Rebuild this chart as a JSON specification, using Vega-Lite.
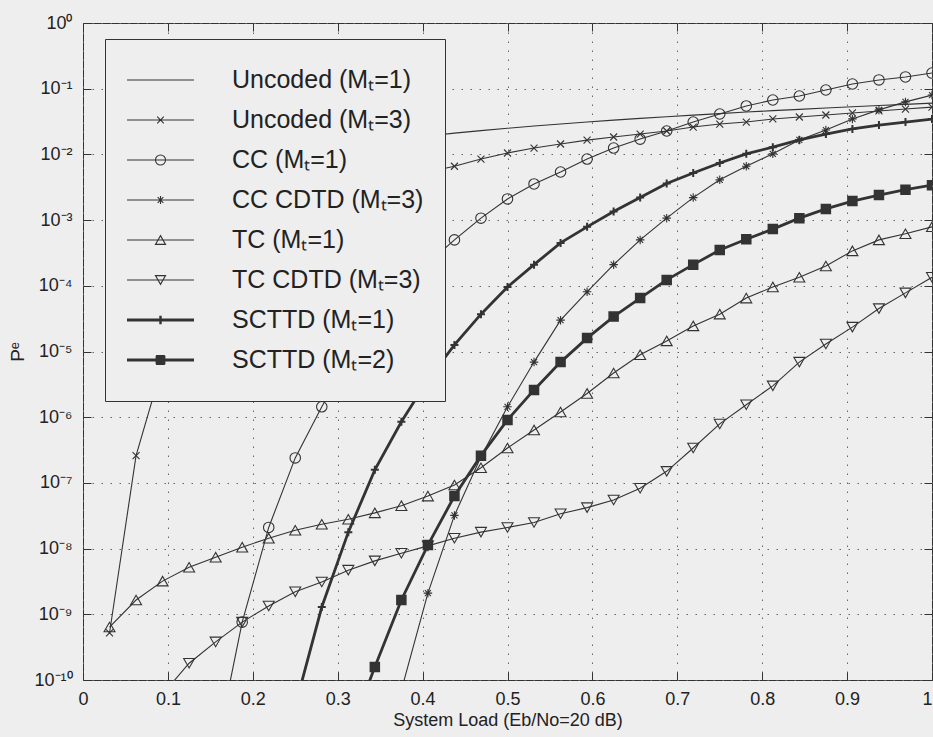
{
  "$schema": "https://vega.github.io/schema/vega-lite/v6.json",
  "width": 849,
  "height": 657,
  "autosize": "none",
  "padding": {"left": 83, "top": 23, "right": 1, "bottom": 57},
  "background": "#eeeeee",
  "config": {
    "view": {"stroke": "#333333", "strokeWidth": 1},
    "font": "Liberation Sans",
    "axis": {"labelFont": "Liberation Sans", "titleFont": "Liberation Sans", "labelColor": "#222222", "titleColor": "#222222", "titleFontWeight": "normal", "tickColor": "#333333", "domain": false}
  },
  "data": {"values": [
    {"series":"Uncoded (Mₜ=1)","load":0.03125,"pe":7.4e-4},{"series":"Uncoded (Mₜ=1)","load":0.0625,"pe":1.78e-3},{"series":"Uncoded (Mₜ=1)","load":0.09375,"pe":2.97e-3},{"series":"Uncoded (Mₜ=1)","load":0.125,"pe":4.3e-3},{"series":"Uncoded (Mₜ=1)","load":0.15625,"pe":5.7e-3},{"series":"Uncoded (Mₜ=1)","load":0.1875,"pe":7.2e-3},{"series":"Uncoded (Mₜ=1)","load":0.21875,"pe":8.7e-3},{"series":"Uncoded (Mₜ=1)","load":0.25,"pe":1.04e-2},{"series":"Uncoded (Mₜ=1)","load":0.28125,"pe":1.2e-2},{"series":"Uncoded (Mₜ=1)","load":0.3125,"pe":1.38e-2},{"series":"Uncoded (Mₜ=1)","load":0.34375,"pe":1.55e-2},{"series":"Uncoded (Mₜ=1)","load":0.375,"pe":1.74e-2},{"series":"Uncoded (Mₜ=1)","load":0.40625,"pe":1.91e-2},{"series":"Uncoded (Mₜ=1)","load":0.4375,"pe":2.11e-2},{"series":"Uncoded (Mₜ=1)","load":0.46875,"pe":2.3e-2},{"series":"Uncoded (Mₜ=1)","load":0.5,"pe":2.5e-2},{"series":"Uncoded (Mₜ=1)","load":0.53125,"pe":2.7e-2},{"series":"Uncoded (Mₜ=1)","load":0.5625,"pe":2.9e-2},{"series":"Uncoded (Mₜ=1)","load":0.59375,"pe":3.11e-2},{"series":"Uncoded (Mₜ=1)","load":0.625,"pe":3.32e-2},{"series":"Uncoded (Mₜ=1)","load":0.65625,"pe":3.53e-2},{"series":"Uncoded (Mₜ=1)","load":0.6875,"pe":3.74e-2},{"series":"Uncoded (Mₜ=1)","load":0.71875,"pe":3.96e-2},{"series":"Uncoded (Mₜ=1)","load":0.75,"pe":4.18e-2},{"series":"Uncoded (Mₜ=1)","load":0.78125,"pe":4.41e-2},{"series":"Uncoded (Mₜ=1)","load":0.8125,"pe":4.63e-2},{"series":"Uncoded (Mₜ=1)","load":0.84375,"pe":4.85e-2},{"series":"Uncoded (Mₜ=1)","load":0.875,"pe":5.08e-2},{"series":"Uncoded (Mₜ=1)","load":0.90625,"pe":5.31e-2},{"series":"Uncoded (Mₜ=1)","load":0.9375,"pe":5.55e-2},{"series":"Uncoded (Mₜ=1)","load":0.96875,"pe":5.78e-2},{"series":"Uncoded (Mₜ=1)","load":1,"pe":6.03e-2},

    {"series":"Uncoded (Mₜ=3)","load":0.03125,"pe":5.2e-10},{"series":"Uncoded (Mₜ=3)","load":0.0625,"pe":2.6e-7},{"series":"Uncoded (Mₜ=3)","load":0.09375,"pe":6.3e-6},{"series":"Uncoded (Mₜ=3)","load":0.125,"pe":5.0e-5},{"series":"Uncoded (Mₜ=3)","load":0.15625,"pe":1.8e-4},{"series":"Uncoded (Mₜ=3)","load":0.1875,"pe":4.5e-4},{"series":"Uncoded (Mₜ=3)","load":0.21875,"pe":8.9e-4},{"series":"Uncoded (Mₜ=3)","load":0.25,"pe":1.41e-3},{"series":"Uncoded (Mₜ=3)","load":0.28125,"pe":2.1e-3},{"series":"Uncoded (Mₜ=3)","load":0.3125,"pe":2.8e-3},{"series":"Uncoded (Mₜ=3)","load":0.34375,"pe":3.6e-3},{"series":"Uncoded (Mₜ=3)","load":0.375,"pe":4.5e-3},{"series":"Uncoded (Mₜ=3)","load":0.40625,"pe":5.4e-3},{"series":"Uncoded (Mₜ=3)","load":0.4375,"pe":6.6e-3},{"series":"Uncoded (Mₜ=3)","load":0.46875,"pe":8.5e-3},{"series":"Uncoded (Mₜ=3)","load":0.5,"pe":1.05e-2},{"series":"Uncoded (Mₜ=3)","load":0.53125,"pe":1.25e-2},{"series":"Uncoded (Mₜ=3)","load":0.5625,"pe":1.44e-2},{"series":"Uncoded (Mₜ=3)","load":0.59375,"pe":1.65e-2},{"series":"Uncoded (Mₜ=3)","load":0.625,"pe":1.84e-2},{"series":"Uncoded (Mₜ=3)","load":0.65625,"pe":2.04e-2},{"series":"Uncoded (Mₜ=3)","load":0.6875,"pe":2.27e-2},{"series":"Uncoded (Mₜ=3)","load":0.71875,"pe":2.61e-2},{"series":"Uncoded (Mₜ=3)","load":0.75,"pe":2.9e-2},{"series":"Uncoded (Mₜ=3)","load":0.78125,"pe":3.11e-2},{"series":"Uncoded (Mₜ=3)","load":0.8125,"pe":3.46e-2},{"series":"Uncoded (Mₜ=3)","load":0.84375,"pe":3.71e-2},{"series":"Uncoded (Mₜ=3)","load":0.875,"pe":3.98e-2},{"series":"Uncoded (Mₜ=3)","load":0.90625,"pe":4.27e-2},{"series":"Uncoded (Mₜ=3)","load":0.9375,"pe":4.58e-2},{"series":"Uncoded (Mₜ=3)","load":0.96875,"pe":4.9e-2},{"series":"Uncoded (Mₜ=3)","load":1,"pe":5.25e-2},

    {"series":"CC (Mₜ=1)","load":0.15625,"pe":7.8e-12},{"series":"CC (Mₜ=1)","load":0.1875,"pe":7.6e-10},{"series":"CC (Mₜ=1)","load":0.21875,"pe":2.1e-8},{"series":"CC (Mₜ=1)","load":0.25,"pe":2.4e-7},{"series":"CC (Mₜ=1)","load":0.28125,"pe":1.44e-6},{"series":"CC (Mₜ=1)","load":0.3125,"pe":7.4e-6},{"series":"CC (Mₜ=1)","load":0.34375,"pe":3.0e-5},{"series":"CC (Mₜ=1)","load":0.375,"pe":8.7e-5},{"series":"CC (Mₜ=1)","load":0.40625,"pe":2.2e-4},{"series":"CC (Mₜ=1)","load":0.4375,"pe":5.0e-4},{"series":"CC (Mₜ=1)","load":0.46875,"pe":1.07e-3},{"series":"CC (Mₜ=1)","load":0.5,"pe":2.1e-3},{"series":"CC (Mₜ=1)","load":0.53125,"pe":3.55e-3},{"series":"CC (Mₜ=1)","load":0.5625,"pe":5.4e-3},{"series":"CC (Mₜ=1)","load":0.59375,"pe":8.5e-3},{"series":"CC (Mₜ=1)","load":0.625,"pe":1.25e-2},{"series":"CC (Mₜ=1)","load":0.65625,"pe":1.71e-2},{"series":"CC (Mₜ=1)","load":0.6875,"pe":2.27e-2},{"series":"CC (Mₜ=1)","load":0.71875,"pe":3.11e-2},{"series":"CC (Mₜ=1)","load":0.75,"pe":4.12e-2},{"series":"CC (Mₜ=1)","load":0.78125,"pe":5.46e-2},{"series":"CC (Mₜ=1)","load":0.8125,"pe":6.73e-2},{"series":"CC (Mₜ=1)","load":0.84375,"pe":7.74e-2},{"series":"CC (Mₜ=1)","load":0.875,"pe":9.55e-2},{"series":"CC (Mₜ=1)","load":0.90625,"pe":0.118},{"series":"CC (Mₜ=1)","load":0.9375,"pe":0.136},{"series":"CC (Mₜ=1)","load":0.96875,"pe":0.151},{"series":"CC (Mₜ=1)","load":1,"pe":0.173},

    {"series":"CC CDTD (Mₜ=3)","load":0.375,"pe":7e-11},{"series":"CC CDTD (Mₜ=3)","load":0.40625,"pe":2.1e-9},{"series":"CC CDTD (Mₜ=3)","load":0.4375,"pe":3.2e-8},{"series":"CC CDTD (Mₜ=3)","load":0.46875,"pe":2.5e-7},{"series":"CC CDTD (Mₜ=3)","load":0.5,"pe":1.44e-6},{"series":"CC CDTD (Mₜ=3)","load":0.53125,"pe":6.9e-6},{"series":"CC CDTD (Mₜ=3)","load":0.5625,"pe":3.0e-5},{"series":"CC CDTD (Mₜ=3)","load":0.59375,"pe":8.1e-5},{"series":"CC CDTD (Mₜ=3)","load":0.625,"pe":2.1e-4},{"series":"CC CDTD (Mₜ=3)","load":0.65625,"pe":5.0e-4},{"series":"CC CDTD (Mₜ=3)","load":0.6875,"pe":1.07e-3},{"series":"CC CDTD (Mₜ=3)","load":0.71875,"pe":2.2e-3},{"series":"CC CDTD (Mₜ=3)","load":0.75,"pe":4.1e-3},{"series":"CC CDTD (Mₜ=3)","load":0.78125,"pe":6.6e-3},{"series":"CC CDTD (Mₜ=3)","load":0.8125,"pe":1.02e-2},{"series":"CC CDTD (Mₜ=3)","load":0.84375,"pe":1.66e-2},{"series":"CC CDTD (Mₜ=3)","load":0.875,"pe":2.35e-2},{"series":"CC CDTD (Mₜ=3)","load":0.90625,"pe":3.47e-2},{"series":"CC CDTD (Mₜ=3)","load":0.9375,"pe":4.76e-2},{"series":"CC CDTD (Mₜ=3)","load":0.96875,"pe":6.3e-2},{"series":"CC CDTD (Mₜ=3)","load":1,"pe":8.0e-2},

    {"series":"TC (Mₜ=1)","load":0.03125,"pe":6.4e-10},{"series":"TC (Mₜ=1)","load":0.0625,"pe":1.65e-9},{"series":"TC (Mₜ=1)","load":0.09375,"pe":3.2e-9},{"series":"TC (Mₜ=1)","load":0.125,"pe":5.2e-9},{"series":"TC (Mₜ=1)","load":0.15625,"pe":7.4e-9},{"series":"TC (Mₜ=1)","load":0.1875,"pe":1.05e-8},{"series":"TC (Mₜ=1)","load":0.21875,"pe":1.44e-8},{"series":"TC (Mₜ=1)","load":0.25,"pe":1.9e-8},{"series":"TC (Mₜ=1)","load":0.28125,"pe":2.35e-8},{"series":"TC (Mₜ=1)","load":0.3125,"pe":2.8e-8},{"series":"TC (Mₜ=1)","load":0.34375,"pe":3.5e-8},{"series":"TC (Mₜ=1)","load":0.375,"pe":4.5e-8},{"series":"TC (Mₜ=1)","load":0.40625,"pe":6.3e-8},{"series":"TC (Mₜ=1)","load":0.4375,"pe":9.3e-8},{"series":"TC (Mₜ=1)","load":0.46875,"pe":1.7e-7},{"series":"TC (Mₜ=1)","load":0.5,"pe":3.4e-7},{"series":"TC (Mₜ=1)","load":0.53125,"pe":6.4e-7},{"series":"TC (Mₜ=1)","load":0.5625,"pe":1.2e-6},{"series":"TC (Mₜ=1)","load":0.59375,"pe":2.3e-6},{"series":"TC (Mₜ=1)","load":0.625,"pe":4.7e-6},{"series":"TC (Mₜ=1)","load":0.65625,"pe":8.9e-6},{"series":"TC (Mₜ=1)","load":0.6875,"pe":1.45e-5},{"series":"TC (Mₜ=1)","load":0.71875,"pe":2.45e-5},{"series":"TC (Mₜ=1)","load":0.75,"pe":3.7e-5},{"series":"TC (Mₜ=1)","load":0.78125,"pe":6.5e-5},{"series":"TC (Mₜ=1)","load":0.8125,"pe":9.6e-5},{"series":"TC (Mₜ=1)","load":0.84375,"pe":1.35e-4},{"series":"TC (Mₜ=1)","load":0.875,"pe":2.0e-4},{"series":"TC (Mₜ=1)","load":0.90625,"pe":3.4e-4},{"series":"TC (Mₜ=1)","load":0.9375,"pe":5.0e-4},{"series":"TC (Mₜ=1)","load":0.96875,"pe":6.2e-4},{"series":"TC (Mₜ=1)","load":1,"pe":7.9e-4},

    {"series":"TC CDTD (Mₜ=3)","load":0.09375,"pe":6.1e-11},{"series":"TC CDTD (Mₜ=3)","load":0.125,"pe":1.8e-10},{"series":"TC CDTD (Mₜ=3)","load":0.15625,"pe":3.8e-10},{"series":"TC CDTD (Mₜ=3)","load":0.1875,"pe":7.6e-10},{"series":"TC CDTD (Mₜ=3)","load":0.21875,"pe":1.34e-9},{"series":"TC CDTD (Mₜ=3)","load":0.25,"pe":2.2e-9},{"series":"TC CDTD (Mₜ=3)","load":0.28125,"pe":3.1e-9},{"series":"TC CDTD (Mₜ=3)","load":0.3125,"pe":4.7e-9},{"series":"TC CDTD (Mₜ=3)","load":0.34375,"pe":6.5e-9},{"series":"TC CDTD (Mₜ=3)","load":0.375,"pe":8.5e-9},{"series":"TC CDTD (Mₜ=3)","load":0.40625,"pe":1.1e-8},{"series":"TC CDTD (Mₜ=3)","load":0.4375,"pe":1.44e-8},{"series":"TC CDTD (Mₜ=3)","load":0.46875,"pe":1.78e-8},{"series":"TC CDTD (Mₜ=3)","load":0.5,"pe":2.1e-8},{"series":"TC CDTD (Mₜ=3)","load":0.53125,"pe":2.5e-8},{"series":"TC CDTD (Mₜ=3)","load":0.5625,"pe":3.4e-8},{"series":"TC CDTD (Mₜ=3)","load":0.59375,"pe":4.2e-8},{"series":"TC CDTD (Mₜ=3)","load":0.625,"pe":5.5e-8},{"series":"TC CDTD (Mₜ=3)","load":0.65625,"pe":8.3e-8},{"series":"TC CDTD (Mₜ=3)","load":0.6875,"pe":1.5e-7},{"series":"TC CDTD (Mₜ=3)","load":0.71875,"pe":3.4e-7},{"series":"TC CDTD (Mₜ=3)","load":0.75,"pe":7.9e-7},{"series":"TC CDTD (Mₜ=3)","load":0.78125,"pe":1.55e-6},{"series":"TC CDTD (Mₜ=3)","load":0.8125,"pe":3.0e-6},{"series":"TC CDTD (Mₜ=3)","load":0.84375,"pe":6.9e-6},{"series":"TC CDTD (Mₜ=3)","load":0.875,"pe":1.3e-5},{"series":"TC CDTD (Mₜ=3)","load":0.90625,"pe":2.35e-5},{"series":"TC CDTD (Mₜ=3)","load":0.9375,"pe":4.5e-5},{"series":"TC CDTD (Mₜ=3)","load":0.96875,"pe":7.8e-5},{"series":"TC CDTD (Mₜ=3)","load":1,"pe":1.35e-4},

    {"series":"SCTTD (Mₜ=1)","load":0.25,"pe":4e-11},{"series":"SCTTD (Mₜ=1)","load":0.28125,"pe":1.29e-9},{"series":"SCTTD (Mₜ=1)","load":0.3125,"pe":1.78e-8},{"series":"SCTTD (Mₜ=1)","load":0.34375,"pe":1.58e-7},{"series":"SCTTD (Mₜ=1)","load":0.375,"pe":8.5e-7},{"series":"SCTTD (Mₜ=1)","load":0.40625,"pe":3.7e-6},{"series":"SCTTD (Mₜ=1)","load":0.4375,"pe":1.26e-5},{"series":"SCTTD (Mₜ=1)","load":0.46875,"pe":3.7e-5},{"series":"SCTTD (Mₜ=1)","load":0.5,"pe":9.6e-5},{"series":"SCTTD (Mₜ=1)","load":0.53125,"pe":2.1e-4},{"series":"SCTTD (Mₜ=1)","load":0.5625,"pe":4.5e-4},{"series":"SCTTD (Mₜ=1)","load":0.59375,"pe":7.9e-4},{"series":"SCTTD (Mₜ=1)","load":0.625,"pe":1.35e-3},{"series":"SCTTD (Mₜ=1)","load":0.65625,"pe":2.2e-3},{"series":"SCTTD (Mₜ=1)","load":0.6875,"pe":3.6e-3},{"series":"SCTTD (Mₜ=1)","load":0.71875,"pe":5.2e-3},{"series":"SCTTD (Mₜ=1)","load":0.75,"pe":7.4e-3},{"series":"SCTTD (Mₜ=1)","load":0.78125,"pe":1.02e-2},{"series":"SCTTD (Mₜ=1)","load":0.8125,"pe":1.29e-2},{"series":"SCTTD (Mₜ=1)","load":0.84375,"pe":1.66e-2},{"series":"SCTTD (Mₜ=1)","load":0.875,"pe":2.04e-2},{"series":"SCTTD (Mₜ=1)","load":0.90625,"pe":2.44e-2},{"series":"SCTTD (Mₜ=1)","load":0.9375,"pe":2.8e-2},{"series":"SCTTD (Mₜ=1)","load":0.96875,"pe":3.1e-2},{"series":"SCTTD (Mₜ=1)","load":1,"pe":3.45e-2},

    {"series":"SCTTD (Mₜ=2)","load":0.3125,"pe":1.35e-11},{"series":"SCTTD (Mₜ=2)","load":0.34375,"pe":1.58e-10},{"series":"SCTTD (Mₜ=2)","load":0.375,"pe":1.65e-9},{"series":"SCTTD (Mₜ=2)","load":0.40625,"pe":1.13e-8},{"series":"SCTTD (Mₜ=2)","load":0.4375,"pe":6.3e-8},{"series":"SCTTD (Mₜ=2)","load":0.46875,"pe":2.6e-7},{"series":"SCTTD (Mₜ=2)","load":0.5,"pe":9.1e-7},{"series":"SCTTD (Mₜ=2)","load":0.53125,"pe":2.6e-6},{"series":"SCTTD (Mₜ=2)","load":0.5625,"pe":6.9e-6},{"series":"SCTTD (Mₜ=2)","load":0.59375,"pe":1.6e-5},{"series":"SCTTD (Mₜ=2)","load":0.625,"pe":3.4e-5},{"series":"SCTTD (Mₜ=2)","load":0.65625,"pe":6.5e-5},{"series":"SCTTD (Mₜ=2)","load":0.6875,"pe":1.23e-4},{"series":"SCTTD (Mₜ=2)","load":0.71875,"pe":2.1e-4},{"series":"SCTTD (Mₜ=2)","load":0.75,"pe":3.5e-4},{"series":"SCTTD (Mₜ=2)","load":0.78125,"pe":5.1e-4},{"series":"SCTTD (Mₜ=2)","load":0.8125,"pe":7.3e-4},{"series":"SCTTD (Mₜ=2)","load":0.84375,"pe":1.07e-3},{"series":"SCTTD (Mₜ=2)","load":0.875,"pe":1.48e-3},{"series":"SCTTD (Mₜ=2)","load":0.90625,"pe":1.95e-3},{"series":"SCTTD (Mₜ=2)","load":0.9375,"pe":2.4e-3},{"series":"SCTTD (Mₜ=2)","load":0.96875,"pe":2.9e-3},{"series":"SCTTD (Mₜ=2)","load":1,"pe":3.4e-3}
  ]},
  "resolve": {"scale": {"x": "independent", "y": "independent", "shape": "independent"}, "axis": {"x": "independent", "y": "independent"}, "legend": {"shape": "independent"}},
  "layer": [
    {
      "mark": {"type": "line", "clip": true, "color": "#333333"},
      "encoding": {
        "x": {"field": "load", "type": "quantitative", "scale": {"domain": [0, 1], "nice": false, "zero": false},
          "axis": {"values": [0,0.1,0.2,0.3,0.4,0.5,0.6,0.7,0.8,0.9,1], "format": "~g", "title": "System Load (Eb/No=20 dB)", "labelFontSize": 18, "titleFontSize": 18, "ticks": false, "labelPadding": 10, "titlePadding": 3, "grid": true, "gridDash": [1.5, 7.5], "gridColor": "#666666", "gridOpacity": 1, "labelFlush": false,
            "labelAlign": {"condition": {"test": "datum.value === 1", "value": "right"}, "value": "center"}}},
        "y": {"field": "pe", "type": "quantitative", "scale": {"type": "log", "domain": [1e-10, 1], "nice": false},
          "axis": {"values": [1e-10,1e-9,1e-8,1e-7,1e-6,1e-5,1e-4,1e-3,1e-2,1e-1,1], "labelExpr": "['10⁰','10⁻¹','10⁻²','10⁻³','10⁻⁴','10⁻⁵','10⁻⁶','10⁻⁷','10⁻⁸','10⁻⁹','10⁻¹⁰'][round(-log(datum.value)/LN10)]", "title": "Pᵉ", "labelFontSize": 18, "titleFontSize": 19, "ticks": false, "labelPadding": 11, "titlePadding": 6, "grid": true, "gridDash": [1.5, 7.5], "gridColor": "#666666", "gridOpacity": 1, "labelFlush": false}},
        "detail": {"field": "series"},
        "strokeWidth": {"condition": {"test": "indexof(datum.series, 'SCTTD') === 0", "value": 2.8}, "value": 1.1}
      }
    },
    {
      "transform": [{"filter": "datum.series !== 'Uncoded (Mₜ=1)'"}],
      "mark": {"type": "point", "clip": true, "filled": false, "color": "#333333", "opacity": 1},
      "encoding": {
        "x": {"field": "load", "type": "quantitative", "scale": {"domain": [0, 1], "nice": false, "zero": false}, "axis": null},
        "y": {"field": "pe", "type": "quantitative", "scale": {"type": "log", "domain": [1e-10, 1], "nice": false}, "axis": null},
        "shape": {"field": "series", "type": "nominal", "legend": null,
          "scale": {"domain": ["Uncoded (Mₜ=1)","Uncoded (Mₜ=3)","CC (Mₜ=1)","CC CDTD (Mₜ=3)","TC (Mₜ=1)","TC CDTD (Mₜ=3)","SCTTD (Mₜ=1)","SCTTD (Mₜ=2)"],
            "range": ["M0,0", "M-0.7,-0.7L0.7,0.7M-0.7,0.7L0.7,-0.7", "circle", "M-0.85,0L0.85,0M0,-0.85L0,0.85M-0.6,-0.6L0.6,0.6M-0.6,0.6L0.6,-0.6", "triangle-up", "triangle-down", "M-0.8,0L0.8,0M0,-0.8L0,0.8", "square"]}},
        "size": {"condition": [{"test": "datum.series === 'SCTTD (Mₜ=2)'", "value": 81}, {"test": "indexof(datum.series, 'TC') === 0", "value": 120}, {"test": "indexof(datum.series, 'CC (') === 0", "value": 110}], "value": 100},
        "fill": {"condition": {"test": "datum.series === 'SCTTD (Mₜ=2)'", "value": "#333333"}, "value": "transparent"},
        "strokeWidth": {"condition": [{"test": "datum.series === 'SCTTD (Mₜ=1)'", "value": 2}, {"test": "datum.series === 'SCTTD (Mₜ=2)'", "value": 1.5}], "value": 1.1}
      }
    },
    {
      "transform": [{"filter": "false"}],
      "mark": {"type": "point", "filled": false, "color": "#333333", "strokeWidth": 1.1, "opacity": 1},
      "encoding": {
        "x": {"field": "load", "type": "quantitative", "scale": {"domain": [0, 1], "nice": false, "zero": false}, "axis": null},
        "y": {"field": "pe", "type": "quantitative", "scale": {"type": "log", "domain": [1e-10, 1], "nice": false}, "axis": null},
        "shape": {"field": "series", "type": "nominal",
          "scale": {"domain": ["Uncoded (Mₜ=1)","Uncoded (Mₜ=3)","CC (Mₜ=1)","CC CDTD (Mₜ=3)","TC (Mₜ=1)","TC CDTD (Mₜ=3)","SCTTD (Mₜ=1)","SCTTD (Mₜ=2)"],
            "range": [
              "M-1,0L1,0",
              "M-1,0L1,0M-0.1,-0.1L0.1,0.1M-0.1,0.1L0.1,-0.1",
              "M-1,0L1,0M0.15,0A0.15,0.15,0,1,1,-0.15,0A0.15,0.15,0,1,1,0.15,0",
              "M-1,0L1,0M0,-0.12L0,0.12M-0.085,-0.085L0.085,0.085M-0.085,0.085L0.085,-0.085",
              "M-1,0L1,0M0,-0.13L0.15,0.13L-0.15,0.13Z",
              "M-1,0L1,0M0,0.13L0.15,-0.13L-0.15,-0.13Z",
              "M-1,-0.03L1,-0.03M-1,0L1,0M-1,0.03L1,0.03M0,-0.13L0,0.13M-0.02,-0.13L-0.02,0.13M0.02,-0.13L0.02,0.13",
              "M-1,-0.03L1,-0.03M-1,0L1,0M-1,0.03L1,0.03M-0.13,-0.13L0.13,-0.13M-0.13,-0.1L0.13,-0.1M-0.13,-0.07L0.13,-0.07M-0.13,-0.04L0.13,-0.04M-0.13,0.04L0.13,0.04M-0.13,0.07L0.13,0.07M-0.13,0.1L0.13,0.1M-0.13,0.13L0.13,0.13M-0.13,-0.13L-0.13,0.13M0.13,-0.13L0.13,0.13"
            ]},
          "legend": {
            "title": null, "orient": "none", "legendX": 22, "legendY": 16,
            "fillColor": "#eeeeee", "strokeColor": "#333333", "padding": 21,
            "symbolSize": 4489, "clipHeight": 40, "rowPadding": 0,
            "symbolStrokeWidth": 1.1, "symbolStrokeColor": "#333333", "symbolFillColor": "transparent", "symbolOpacity": 1,
            "labelFont": "Liberation Sans", "labelFontSize": 25, "labelColor": "#222222", "labelOffset": 37, "labelLimit": 400
          }}
      }
    },
    {
      "mark": {"type": "point", "opacity": 0},
      "encoding": {
        "x": {"field": "load", "type": "quantitative", "scale": {"domain": [0, 1], "nice": false, "zero": false},
          "axis": {"orient": "top", "values": [0,0.1,0.2,0.3,0.4,0.5,0.6,0.7,0.8,0.9,1], "labels": false, "title": null, "offset": -8, "tickSize": 8, "grid": false}},
        "y": {"field": "pe", "type": "quantitative", "scale": {"type": "log", "domain": [1e-10, 1], "nice": false},
          "axis": {"orient": "right", "values": [1e-10,1e-9,1e-8,1e-7,1e-6,1e-5,1e-4,1e-3,1e-2,1e-1,1], "labels": false, "title": null, "offset": -8, "tickSize": 8, "grid": false}}
      }
    },
    {
      "mark": {"type": "point", "opacity": 0},
      "encoding": {
        "x": {"field": "load", "type": "quantitative", "scale": {"domain": [0, 1], "nice": false, "zero": false},
          "axis": {"orient": "bottom", "values": [0,0.1,0.2,0.3,0.4,0.5,0.6,0.7,0.8,0.9,1], "labels": false, "title": null, "offset": -8, "tickSize": 8, "grid": false}},
        "y": {"field": "pe", "type": "quantitative", "scale": {"type": "log", "domain": [1e-10, 1], "nice": false},
          "axis": {"orient": "left", "values": [1e-10,1e-9,1e-8,1e-7,1e-6,1e-5,1e-4,1e-3,1e-2,1e-1,1], "labels": false, "title": null, "offset": -8, "tickSize": 8, "grid": false}}
      }
    }
  ]
}
